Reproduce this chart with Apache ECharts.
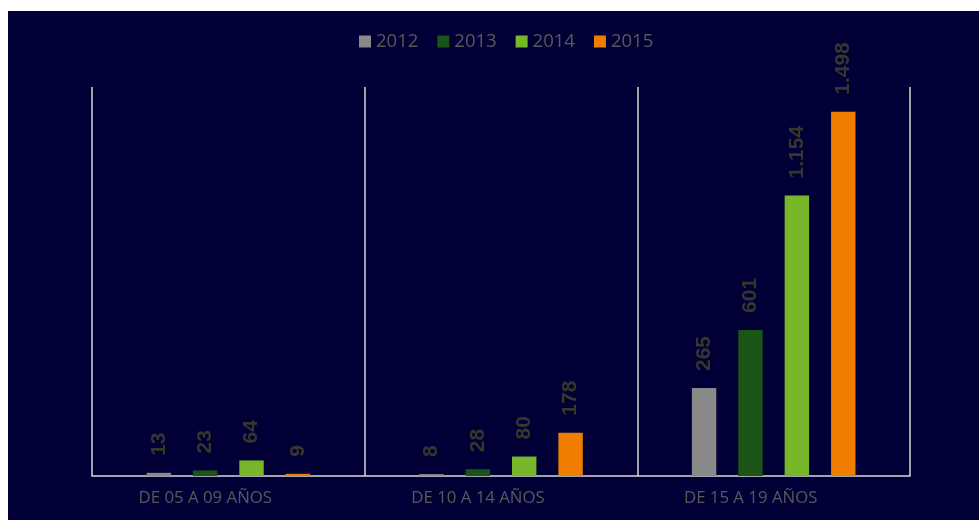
<!DOCTYPE html>
<html>
<head>
<meta charset="utf-8">
<script src="https://cdn.jsdelivr.net/npm/echarts@6/dist/echarts.min.js"></script>
<style>
html,body{margin:0;padding:0;background:#ffffff;width:979px;height:520px;overflow:hidden;}
#chart{position:absolute;left:8px;top:11px;width:971px;height:509px;}
</style>
</head>
<body>
<div id="chart"></div>
<script>
const categories = ['DE 05 A 09 AÑOS', 'DE 10 A 14 AÑOS', 'DE 15 A 19 AÑOS'];
const seriesNames = ['2012', '2013', '2014', '2015'];
// Bar heights as drawn in the reference (the 2012 bar of the last group is drawn taller than its label)
const values2012 = [13, 8, 362];
const values2013 = [23, 28, 601];
const values2014 = [64, 80, 1154];
const values2015 = [9, 178, 1498];
// Data labels as printed in the reference
const labels2012 = ['13', '8', '265'];
const labels2013 = ['23', '28', '601'];
const labels2014 = ['64', '80', '1.154'];
const labels2015 = ['9', '178', '1.498'];
const colors = ['#898989', '#1a5416', '#78b72a', '#f07c00'];

const allValues = [values2012, values2013, values2014, values2015];
const allLabels = [labels2012, labels2013, labels2014, labels2015];

const chart = echarts.init(document.getElementById('chart'));
chart.setOption({
  backgroundColor: '#000037',
  animation: false,
  legend: {
    top: 16,
    left: 346,
    itemWidth: 12,
    itemHeight: 12,
    itemGap: 19,
    icon: 'rect',
    textStyle: { color: '#595959', fontSize: 18.5, fontFamily: 'Open Sans' },
    data: seriesNames
  },
  grid: { left: 84, right: 69, top: 76, bottom: 44 },
  xAxis: {
    type: 'category',
    data: categories,
    axisLine: { show: true, lineStyle: { color: '#d9d9d9', width: 1.5 } },
    axisTick: { show: false },
    splitLine: { show: true, showMinLine: true, showMaxLine: true, lineStyle: { color: '#d9d9d9', width: 1.5 } },
    axisLabel: { color: '#595959', fontSize: 16.8, fontFamily: 'Open Sans', margin: 14, padding: [0, 46, 0, 0] }
  },
  yAxis: {
    type: 'value',
    min: 0,
    max: 1600,
    show: false,
    splitLine: { show: false }
  },
  series: seriesNames.map((name, i) => ({
    name: name,
    type: 'bar',
    data: allValues[i],
    barCategoryGap: '40%',
    barGap: '90%',
    itemStyle: { color: colors[i] },
    label: {
      show: true,
      position: 'top',
      rotate: 90,
      align: 'left',
      verticalAlign: 'middle',
      distance: 17,
      color: '#36362c',
      fontSize: 21,
      fontWeight: 'bold',
      fontFamily: 'Liberation Sans',
      formatter: p => allLabels[i][p.dataIndex]
    }
  }))
});
</script>
</body>
</html>
